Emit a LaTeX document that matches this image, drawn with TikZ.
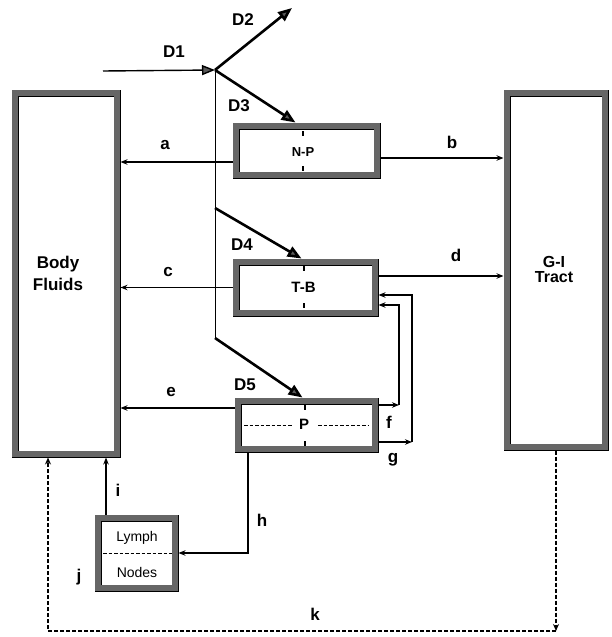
\documentclass[tikz,border=0pt]{standalone}
\usepackage{fontspec}
\setmainfont{Liberation Sans}
\usetikzlibrary{arrows.meta,calc}
\begin{document}
\begin{tikzpicture}[x=1pt,y=-1pt,
  box/.style={rectangle, draw=black, line width=0.9pt, double=black!60, double distance=5.2pt, outer sep=3.5pt, inner sep=0pt, fill=white},
  lab/.style={font=\fontsize{17}{19}\selectfont\bfseries, inner sep=0pt},
  boxtxt/.style={font=\fontsize{16}{15}\selectfont\bfseries, inner sep=0pt, align=center},
  thinarr/.style={line width=1.1pt, -{Stealth[length=7pt,width=5.5pt]}},
  dline/.style={line width=2.6pt, -{Triangle[length=14pt,width=11pt,fill=black!65]}},
  kline/.style={line width=1.2pt, dash pattern=on 4pt off 2pt, -{Stealth[length=7pt,width=6pt]}},
  tickmark/.style={line width=1.4pt},
  midline/.style={line width=1pt, dash pattern=on 3.5pt off 2pt}]

\useasboundingbox (0,0) rectangle (611,637);

% boxes
\node[box, minimum width=102pt, minimum height=361pt] (bf) at (66,273.5) {};
\node[box, minimum width=98pt, minimum height=354pt] (gi) at (556,270) {};
\node[box, minimum width=141pt, minimum height=49pt] (np) at (306.5,150.5) {};
\node[box, minimum width=139pt, minimum height=51pt] (tb) at (305.5,287.5) {};
\node[box, minimum width=137pt, minimum height=48pt] (p) at (306.5,425) {};
\node[box, minimum width=77pt, minimum height=70pt] (ln) at (136.5,553) {};

% box texts
\node[font=\fontsize{17}{22}\selectfont\bfseries, inner sep=0pt, align=center] (bft) at (58,273) {Body\\Fluids};
\node[boxtxt] (git) at (554,269) {G-I\\Tract};
\node[font=\fontsize{13}{15}\selectfont\bfseries, inner sep=0pt] (npt) at (303,152) {N-P};
\node[font=\fontsize{15}{17}\selectfont\bfseries, inner sep=0pt] (tbt) at (303.5,287) {T-B};
\node[font=\fontsize{15}{17}\selectfont\bfseries, inner sep=0pt] (pt) at (304,424) {P};
\node[font=\fontsize{14}{16}\selectfont, inner sep=0pt] (lt1) at (137,538) {Lymph};
\node[font=\fontsize{14}{16}\selectfont, inner sep=0pt] (lt2) at (137,572) {Nodes};

% inner marks
\draw[tickmark] (303,131) -- (303,136);
\draw[tickmark] (303,166) -- (303,171);
\draw[tickmark] (304,266) -- (304,271);
\draw[tickmark] (304,303) -- (304,308);
\draw[tickmark] (305,405) -- (305,410);
\draw[tickmark] (305,441) -- (305,446);
\draw[midline] (244,425) -- (293,425);
\draw[midline] (318,425) -- (369,425);
\draw[midline] (103,553) -- (172,553);

% D flows
\coordinate (d1s) at (103,71);
\coordinate (sp) at (215,70);
\coordinate (d2e) at (292,8);
\coordinate (d4s) at (215,208);
\coordinate (d5s) at (215,338);
\draw[line width=1.4pt, -{Triangle[length=13pt,width=10pt,fill=black!65]}] (d1s) -- (sp);
\draw[line width=1pt] (sp) -- (d5s);
\draw[dline] (sp) -- (d2e);
\draw[dline] (sp) -- ([xshift=-11pt]np.north);
\draw[dline] (d4s) -- ([xshift=-4pt]tb.north);
\draw[dline] (d5s) -- ([xshift=-4pt]p.north);

% levels
\coordinate (ya) at (0,162);
\coordinate (yb) at (0,158);
\coordinate (yd) at (0,276);
\coordinate (ye) at (0,408);
\coordinate (yf) at (0,305);
\coordinate (yg) at (0,295);
\coordinate (fc) at (399,405);
\coordinate (gc) at (412,442);
\coordinate (hs) at (248,0);
\coordinate (is) at (106,0);
\coordinate (kc) at (556,631);
\coordinate (kx) at (48,0);

\draw[thinarr] (np.west |- ya) -- (bf.east |- ya);
\draw[thinarr] (np.east |- yb) -- (gi.west |- yb);
\draw[thinarr] (tb.west) -- (bf.east |- tb.west);
\draw[thinarr] (tb.east |- yd) -- (gi.west |- yd);
\draw[thinarr] (p.west |- ye) -- (bf.east |- ye);
\draw[thinarr] (p.east |- fc) -- (fc);
\draw[thinarr] (fc) |- (tb.east |- yf);
\draw[thinarr] (p.east |- gc) -- (gc);
\draw[thinarr] (gc) |- (tb.east |- yg);
\draw[thinarr] (p.south -| hs) |- (ln.east);
\draw[thinarr] (ln.north -| is) -- (bf.south -| is);
\draw[kline] (gi.south) -- (kc);
\draw[kline] (kc) -| (bf.south -| kx);

% labels
\node[lab] (lD1) at (174,52) {D1};
\node[lab] (lD2) at (243,20) {D2};
\node[lab] (lD3) at (239,106) {D3};
\node[lab] (lD4) at (242,245) {D4};
\node[lab] (lD5) at (245,385) {D5};
\node[lab] (la) at (165,145) {a};
\node[lab] (lb) at (452,142) {b};
\node[lab] (lc) at (168,272) {c};
\node[lab] (ld) at (456,255) {d};
\node[lab] (le) at (171,392) {e};
\node[lab] (lf) at (389,422) {f};
\node[lab] (lg) at (393,460) {g};
\node[lab] (lh) at (262,520) {h};
\node[lab] (li) at (118,490) {i};
\node[lab] (lj) at (79,577) {j};
\node[lab] (lk) at (315,614) {k};
\end{tikzpicture}
\end{document}
